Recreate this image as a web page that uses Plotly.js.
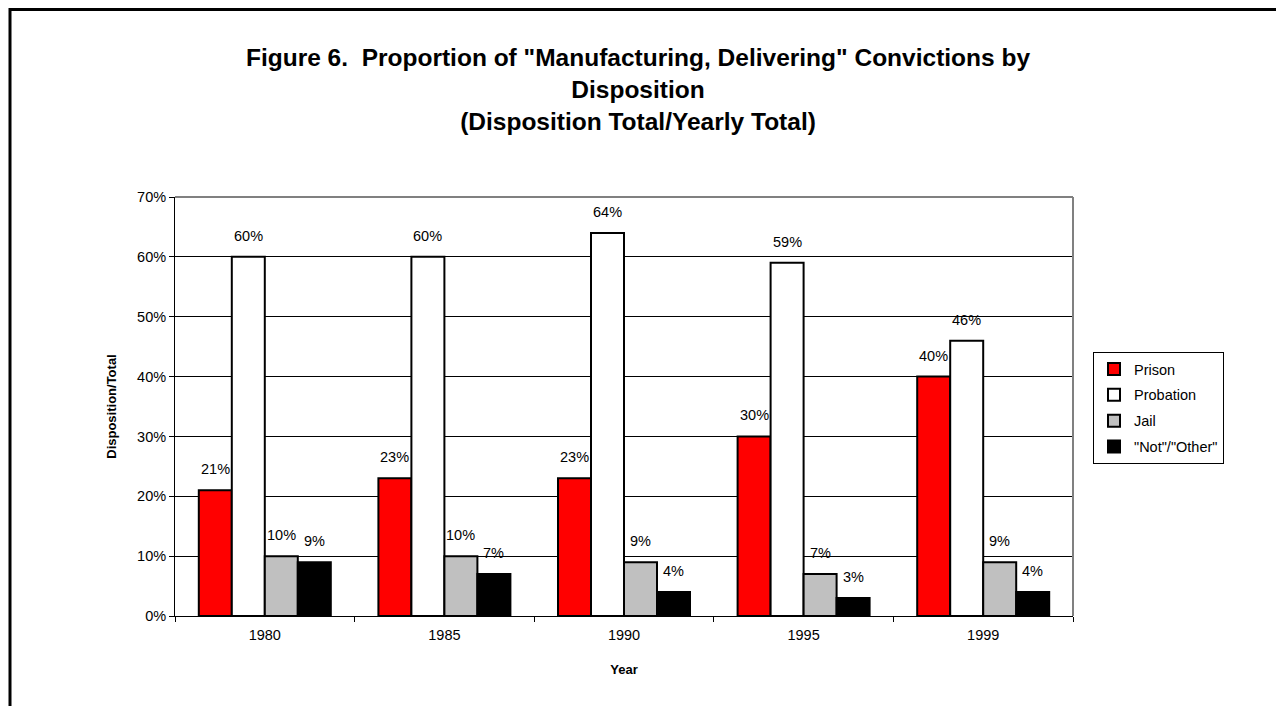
<!DOCTYPE html>
<html>
<head>
<meta charset="utf-8">
<script src="https://cdn.plot.ly/plotly-3.0.1.min.js"></script>
<style>
  html, body { margin: 0; padding: 0; background: #ffffff; }
  #chart { width: 1276px; height: 706px; }
</style>
</head>
<body>
<div id="chart"></div>
<script>
// Conviction years on the category axis
const years = ["1980", "1985", "1990", "1995", "1999"];

// Share of yearly convictions by disposition (fractions)
const prison    = [0.21, 0.23, 0.23, 0.30, 0.40];
const probation = [0.60, 0.60, 0.64, 0.59, 0.46];
const jail      = [0.10, 0.10, 0.09, 0.07, 0.09];
const notOther  = [0.09, 0.07, 0.04, 0.03, 0.04];

const seriesNames  = ["Prison", "Probation", "Jail", "\"Not\"/\"Other\""];
const seriesColors = ["#ff0000", "#ffffff", "#c0c0c0", "#000000"];
const seriesValues = [prison, probation, jail, notOther];

const yTickVals = [0, 0.1, 0.2, 0.3, 0.4, 0.5, 0.6, 0.7];
const yTickText = ["0%", "10%", "20%", "30%", "40%", "50%", "60%", "70%"];

const FONT = "Arial, 'Liberation Sans', sans-serif";
const TXT = 14.5;

const traces = seriesValues.map((vals, i) => ({
  type: "bar",
  name: seriesNames[i],
  x: years,
  y: vals,
  marker: { color: seriesColors[i], line: { color: "#000000", width: 2 } },
  legendgroup: "g" + i,
  hoverinfo: "skip"
}));

// Value labels above each bar, offset to sit over its own bar in the group
const groupWidth = 1 - 0.265;
const barWidth = groupWidth / seriesValues.length;
const annotations = [];
seriesValues.forEach((vals, i) => {
  const offset = -groupWidth / 2 + barWidth * (i + 0.5);
  vals.forEach((v, j) => {
    annotations.push({
      x: j + offset,
      y: v,
      xref: "x",
      yref: "y",
      text: Math.round(v * 100) + "%",
      showarrow: false,
      yanchor: "bottom",
      yshift: 11,
      font: { family: FONT, size: TXT, color: "#000000" }
    });
  });
});

const layout = {
  width: 1276,
  height: 706,
  paper_bgcolor: "#ffffff",
  plot_bgcolor: "#ffffff",
  margin: { l: 175, r: 203, t: 197, b: 90, pad: 0 },
  font: { family: FONT, size: TXT, color: "#000000" },
  title: {
    text: "Figure 6.  Proportion of \"Manufacturing, Delivering\" Convictions by<br>Disposition<br>(Disposition Total/Yearly Total)",
    font: { family: FONT, size: 24.5, color: "#000000", weight: "bold" },
    x: 0.5,
    xref: "container",
    xanchor: "center",
    y: 1 - 66 / 706,
    yref: "container",
    yanchor: "top"
  },
  barmode: "group",
  bargap: 0.265,
  bargroupgap: 0,
  xaxis: {
    type: "category",
    tickson: "boundaries",
    ticks: "outside",
    ticklen: 5,
    tickcolor: "#000000",
    ticklabelstandoff: 6,
    showline: true,
    linecolor: "#000000",
    linewidth: 1,
    showgrid: false,
    zeroline: false,
    tickfont: { family: FONT, size: TXT },
    title: { text: "Year", font: { family: FONT, size: 13, weight: "bold" }, standoff: 22 }
  },
  yaxis: {
    range: [0, 0.7],
    tickvals: yTickVals,
    ticktext: yTickText,
    ticks: "outside",
    ticklen: 5,
    tickcolor: "#000000",
    showline: true,
    linecolor: "#000000",
    linewidth: 1,
    showgrid: true,
    gridcolor: "#000000",
    gridwidth: 1,
    zeroline: false,
    tickfont: { family: FONT, size: TXT },
    title: { text: "Disposition/Total", font: { family: FONT, size: 13, weight: "bold" }, standoff: 17 }
  },
  legend: {
    x: (1093 - 175) / 898,
    xanchor: "left",
    y: (616 - 352) / 419,
    yanchor: "top",
    bgcolor: "#ffffff",
    bordercolor: "#000000",
    borderwidth: 1,
    font: { family: FONT, size: TXT, color: "#000000" },
    traceorder: "grouped",
    tracegroupgap: 4,
    itemwidth: 30
  },
  annotations: annotations,
  shapes: [
    // gray top and right edges of the plotting area
    { type: "line", xref: "paper", yref: "paper", x0: 0, x1: 1, y0: 1, y1: 1,
      line: { color: "#808080", width: 2 } },
    { type: "line", xref: "paper", yref: "paper", x0: 1, x1: 1, y0: 0, y1: 1,
      line: { color: "#808080", width: 2 } },
    // outer frame running along the top and left of the page
    { type: "line", xref: "paper", yref: "paper",
      x0: (10 - 175) / 898, x1: (1280 - 175) / 898,
      y0: (616 - 9.5) / 419, y1: (616 - 9.5) / 419,
      line: { color: "#000000", width: 3 } },
    { type: "line", xref: "paper", yref: "paper",
      x0: (10 - 175) / 898, x1: (10 - 175) / 898,
      y0: (616 - 8) / 419, y1: (616 - 710) / 419,
      line: { color: "#000000", width: 3 } }
  ]
};

Plotly.newPlot("chart", traces, layout, { displayModeBar: false, staticPlot: true });
</script>
</body>
</html>
